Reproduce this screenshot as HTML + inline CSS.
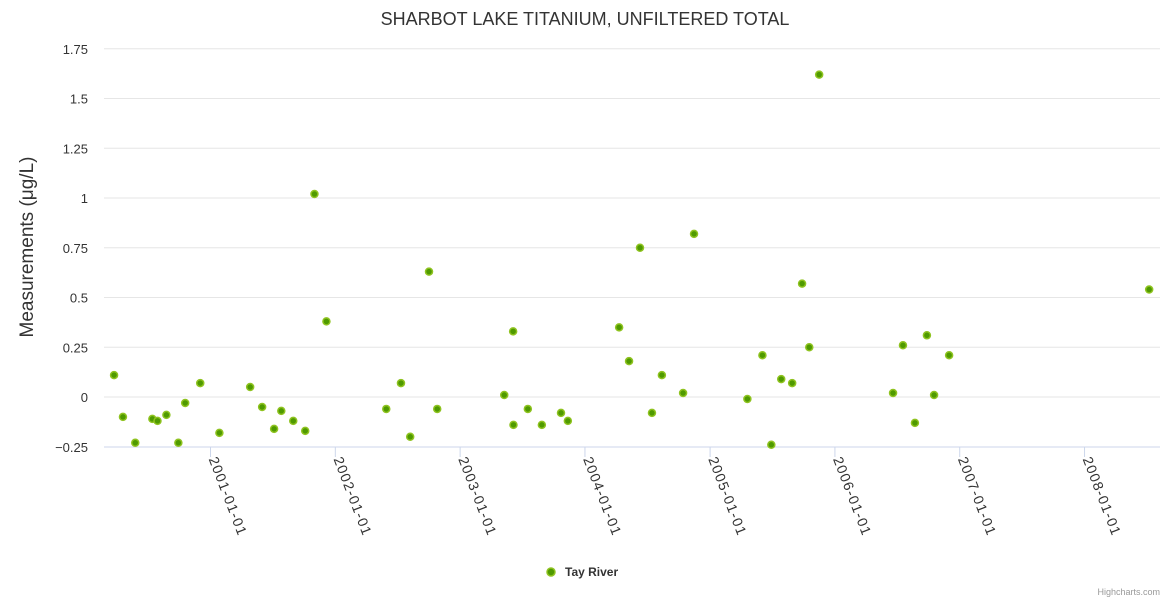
<!DOCTYPE html>
<html><head><meta charset="utf-8"><style>
body{margin:0;background:#fff;font-family:"Liberation Sans","DejaVu Sans",sans-serif}
svg text{font-family:"Liberation Sans","DejaVu Sans",sans-serif}
</style></head><body>
<svg id="chart" width="1170" height="600" xmlns="http://www.w3.org/2000/svg">
<text x="585" y="25" text-anchor="middle" font-size="18" fill="#333">SHARBOT LAKE TITANIUM, UNFILTERED TOTAL</text>
<text transform="translate(33,247) rotate(-90)" text-anchor="middle" font-size="19" fill="#333">Measurements (μg/L)</text>
<g id="grid"></g><g id="xaxis"></g><g id="points"></g>
<g>
<circle cx="551" cy="572" r="4" fill="#4f9a00" stroke="#8fc320" stroke-width="1.5"/>
<text x="565" y="576" font-size="12" font-weight="bold" fill="#333">Tay River</text>
</g>
<text x="1160" y="595" text-anchor="end" font-size="9" fill="#999">Highcharts.com</text>
</svg>
<script>
const dates=["2000-03-25","2000-04-20","2000-05-26","2000-07-15","2000-07-30","2000-08-25","2000-09-29","2000-10-19","2000-12-02","2001-01-27","2001-04-27","2001-06-01","2001-07-06","2001-07-27","2001-08-31","2001-10-05","2001-11-01","2001-12-06","2002-05-30","2002-07-12","2002-08-08","2002-10-02","2002-10-26","2003-05-10","2003-06-05","2003-06-06","2003-07-18","2003-08-28","2003-10-23","2003-11-12","2004-04-10","2004-05-09","2004-06-10","2004-07-15","2004-08-13","2004-10-14","2004-11-15","2005-04-20","2005-06-03","2005-06-29","2005-07-28","2005-08-29","2005-09-27","2005-10-18","2005-11-16","2006-06-20","2006-07-19","2006-08-23","2006-09-27","2006-10-18","2006-12-01","2008-07-08"];
const values=[0.11,-0.10,-0.23,-0.11,-0.12,-0.09,-0.23,-0.03,0.07,-0.18,0.05,-0.05,-0.16,-0.07,-0.12,-0.17,1.02,0.38,-0.06,0.07,-0.20,0.63,-0.06,0.01,0.33,-0.14,-0.06,-0.14,-0.08,-0.12,0.35,0.18,0.75,-0.08,0.11,0.02,0.82,-0.01,0.21,-0.24,0.09,0.07,0.57,0.25,1.62,0.02,0.26,-0.13,0.31,0.01,0.21,0.54];
const yTicks=[-0.25,0,0.25,0.5,0.75,1,1.25,1.5,1.75];
const yTickLabels=["−0.25","0","0.25","0.5","0.75","1","1.25","1.5","1.75"];
const xTicks=["2001-01-01","2002-01-01","2003-01-01","2004-01-01","2005-01-01","2006-01-01","2007-01-01","2008-01-01"];
const NS="http://www.w3.org/2000/svg";
const L=104,R=1160,T=48,B=447;
const d0=Date.UTC(2001,0,1);
function x(d){const t=Date.parse(d+"T00:00:00Z");return 210.5+(t-d0)/86400000*(124.9/365.25);}
function y(v){return 397-v*199;}
function mk(tag,attrs,parent){const e=document.createElementNS(NS,tag);for(const k in attrs)e.setAttribute(k,attrs[k]);parent.appendChild(e);return e;}
const grid=document.getElementById('grid'),xa=document.getElementById('xaxis'),pts=document.getElementById('points');
yTicks.forEach((v,i)=>{
  if(v!==-0.25){const g=mk('line',{x1:L,x2:R,y1:y(v),y2:y(v),stroke:'#e6e6e6','stroke-width':1},grid);
  
  }
  const t=mk('text',{x:88,y:y(v)+5,'text-anchor':'end','font-size':13,fill:'#333'},grid);
  t.textContent=yTickLabels[i];
  
  
});
const ax=mk('line',{x1:L,x2:R,y1:B,y2:B,stroke:'#ccd6eb','stroke-width':1},xa);


xTicks.forEach(d=>{
  const px=x(d);
  const tk=mk('line',{x1:px,x2:px,y1:B,y2:B+10,stroke:'#ccd6eb','stroke-width':1},xa);
  
  
  const t=mk('text',{transform:`translate(${px-2},${B+12}) rotate(69)`,'font-size':14,'letter-spacing':'1.2',fill:'#333'},xa);
  t.textContent=d;
  
  
});
dates.forEach((d,i)=>{
  const c=mk('circle',{cx:x(d),cy:y(values[i]),r:3.5,fill:'#4f9a00',stroke:'#8fc320','stroke-width':1.5},pts);
  
  
});
</script>
</body></html>
